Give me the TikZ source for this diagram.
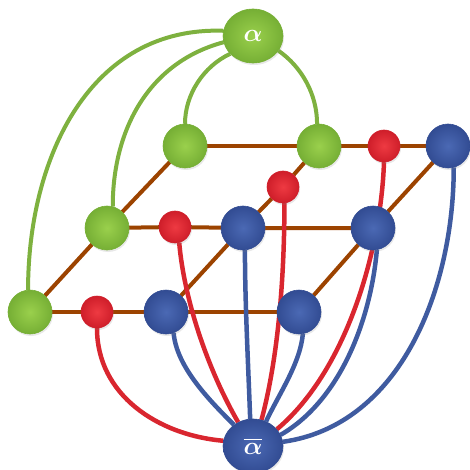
\documentclass[tikz,border=0pt]{standalone}
\usepackage{amsmath,bm}
\usetikzlibrary{shapes.geometric,shadows}
\definecolor{gL}{HTML}{9AD04C}
\definecolor{gD}{HTML}{76AF35}
\definecolor{gC}{HTML}{7EB13F}
\definecolor{rL}{HTML}{EE3A42}
\definecolor{rD}{HTML}{CF1E2A}
\definecolor{rC}{HTML}{D9262F}
\definecolor{bL}{HTML}{4B69B4}
\definecolor{bD}{HTML}{324C93}
\definecolor{bC}{HTML}{3F5BA0}
\definecolor{brn}{HTML}{9C4300}
\begin{document}
\begin{tikzpicture}[x=1pt,y=-1pt,
  ballnode/.style={circle,inner sep=0pt,shading=radial,drop shadow={opacity=0.18,shadow xshift=1pt,shadow yshift=-2pt}},
  gball/.style={ballnode,minimum size=44pt,inner color=gL,outer color=gD,draw=gD,line width=0.6pt},
  rball/.style={ballnode,minimum size=32pt,inner color=rL,outer color=rD,draw=rD,line width=0.6pt},
  bball/.style={ballnode,minimum size=44pt,inner color=bL,outer color=bD,draw=bD,line width=0.6pt},
  gtop/.style={ellipse,inner sep=0pt,minimum width=60pt,minimum height=54pt,shading=radial,inner color=gL,outer color=gD,draw=gD,line width=0.6pt,text=white,font=\fontsize{28}{28}\selectfont,drop shadow={opacity=0.18,shadow xshift=1pt,shadow yshift=-2pt}},
  btop/.style={ellipse,inner sep=0pt,minimum width=60pt,minimum height=54pt,shading=radial,inner color=bL,outer color=bD,draw=bD,line width=0.6pt,text=white,font=\fontsize{28}{28}\selectfont,drop shadow={opacity=0.18,shadow xshift=1pt,shadow yshift=-2pt}},
  grid/.style={draw=brn,line width=4pt},
  gcurve/.style={draw=gC,line width=4pt},
  rcurve/.style={draw=rC,line width=4.5pt},
  bcurve/.style={draw=bC,line width=4.5pt}]
\useasboundingbox (0,0) rectangle (469,470);
% coordinates
\coordinate (pa) at (253,36);
\coordinate (pb) at (253,446);
\coordinate (pG1) at (185,146);
\coordinate (pG2) at (319,146);
\coordinate (pR1) at (384,146);
\coordinate (pB1) at (448,146);
\coordinate (pG3) at (107,228);
\coordinate (pR2) at (175,227);
\coordinate (pB2) at (243,228);
\coordinate (pB3) at (373,228);
\coordinate (pR3) at (283,187);
\coordinate (pG4) at (30,312);
\coordinate (pR4) at (97,312);
\coordinate (pB4) at (166,312);
\coordinate (pB5) at (299,312);
% invisible shape nodes for routing
\begin{scope}[every node/.style={inner sep=0pt}]
\node[ellipse,minimum width=60pt,minimum height=54pt] (a) at (pa) {};
\node[ellipse,minimum width=60pt,minimum height=54pt] (b) at (pb) {};
\node[circle,minimum size=44pt] (G1) at (pG1) {};
\node[circle,minimum size=44pt] (G2) at (pG2) {};
\node[circle,minimum size=32pt] (R1) at (pR1) {};
\node[circle,minimum size=44pt] (B1) at (pB1) {};
\node[circle,minimum size=44pt] (G3) at (pG3) {};
\node[circle,minimum size=32pt] (R2) at (pR2) {};
\node[circle,minimum size=44pt] (B2) at (pB2) {};
\node[circle,minimum size=44pt] (B3) at (pB3) {};
\node[circle,minimum size=32pt] (R3) at (pR3) {};
\node[circle,minimum size=44pt] (G4) at (pG4) {};
\node[circle,minimum size=32pt] (R4) at (pR4) {};
\node[circle,minimum size=44pt] (B4) at (pB4) {};
\node[circle,minimum size=44pt] (B5) at (pB5) {};
\end{scope}
% grid lines
\draw[grid] (G1) -- (G2) -- (R1) -- (B1);
\draw[grid] (G3) -- (R2) -- (B2) -- (B3);
\draw[grid] (G4) -- (R4) -- (B4) -- (B5);
\draw[grid] (G1) -- (G3) -- (G4);
\draw[grid] (G2) -- (R3) -- (B2) -- (B4);
\draw[grid] (B1) -- (B3) -- (B5);
% green curves
\draw[gcurve] (a.170) to[out=178,in=90,looseness=1.05] (G4.95);
\draw[gcurve] (a.192) to[out=195,in=90,looseness=1.0] (G3.75);
\draw[gcurve] (a.218) to[out=205,in=90,looseness=0.9] (G1.90);
\draw[gcurve] (a.-30) to[out=-35,in=90,looseness=0.9] (G2.95);
% red curves
\draw[rcurve] (R4.-90) to[out=-90,in=175,looseness=1.0] (b.170);
\draw[rcurve] (R2.-75) to[out=-85,in=120,looseness=0.8] (b.122);
\draw[rcurve] (R3.-85) to[out=-90,in=75,looseness=0.8] (b.72);
\draw[rcurve] (R1.-90) to[out=-92,in=40,looseness=0.8] (b.35);
% blue curves
\draw[bcurve] (B4.-70) to[out=-85,in=135,looseness=0.8] (b.132);
\draw[bcurve] (B2.-85) to[out=-90,in=92,looseness=0.8] (b.96);
\draw[bcurve] (B5.-80) to[out=-95,in=65,looseness=0.8] (b.62);
\draw[bcurve] (B3.-80) to[out=-95,in=30,looseness=0.85] (b.22);
\draw[bcurve] (B1.-75) to[out=-90,in=8,looseness=0.95] (b.8);
% visible nodes
\node[gball] (nG1) at (pG1) {};
\node[gball] (nG2) at (pG2) {};
\node[rball] (nR1) at (pR1) {};
\node[bball] (nB1) at (pB1) {};
\node[gball] (nG3) at (pG3) {};
\node[rball] (nR2) at (pR2) {};
\node[bball] (nB2) at (pB2) {};
\node[bball] (nB3) at (pB3) {};
\node[rball] (nR3) at (pR3) {};
\node[gball] (nG4) at (pG4) {};
\node[rball] (nR4) at (pR4) {};
\node[bball] (nB4) at (pB4) {};
\node[bball] (nB5) at (pB5) {};
\node[gtop] (na) at (pa) {$\bm{\alpha}$};
\node[btop] (nb) at (pb) {$\overline{\bm{\alpha}}$};
\end{tikzpicture}
\end{document}
